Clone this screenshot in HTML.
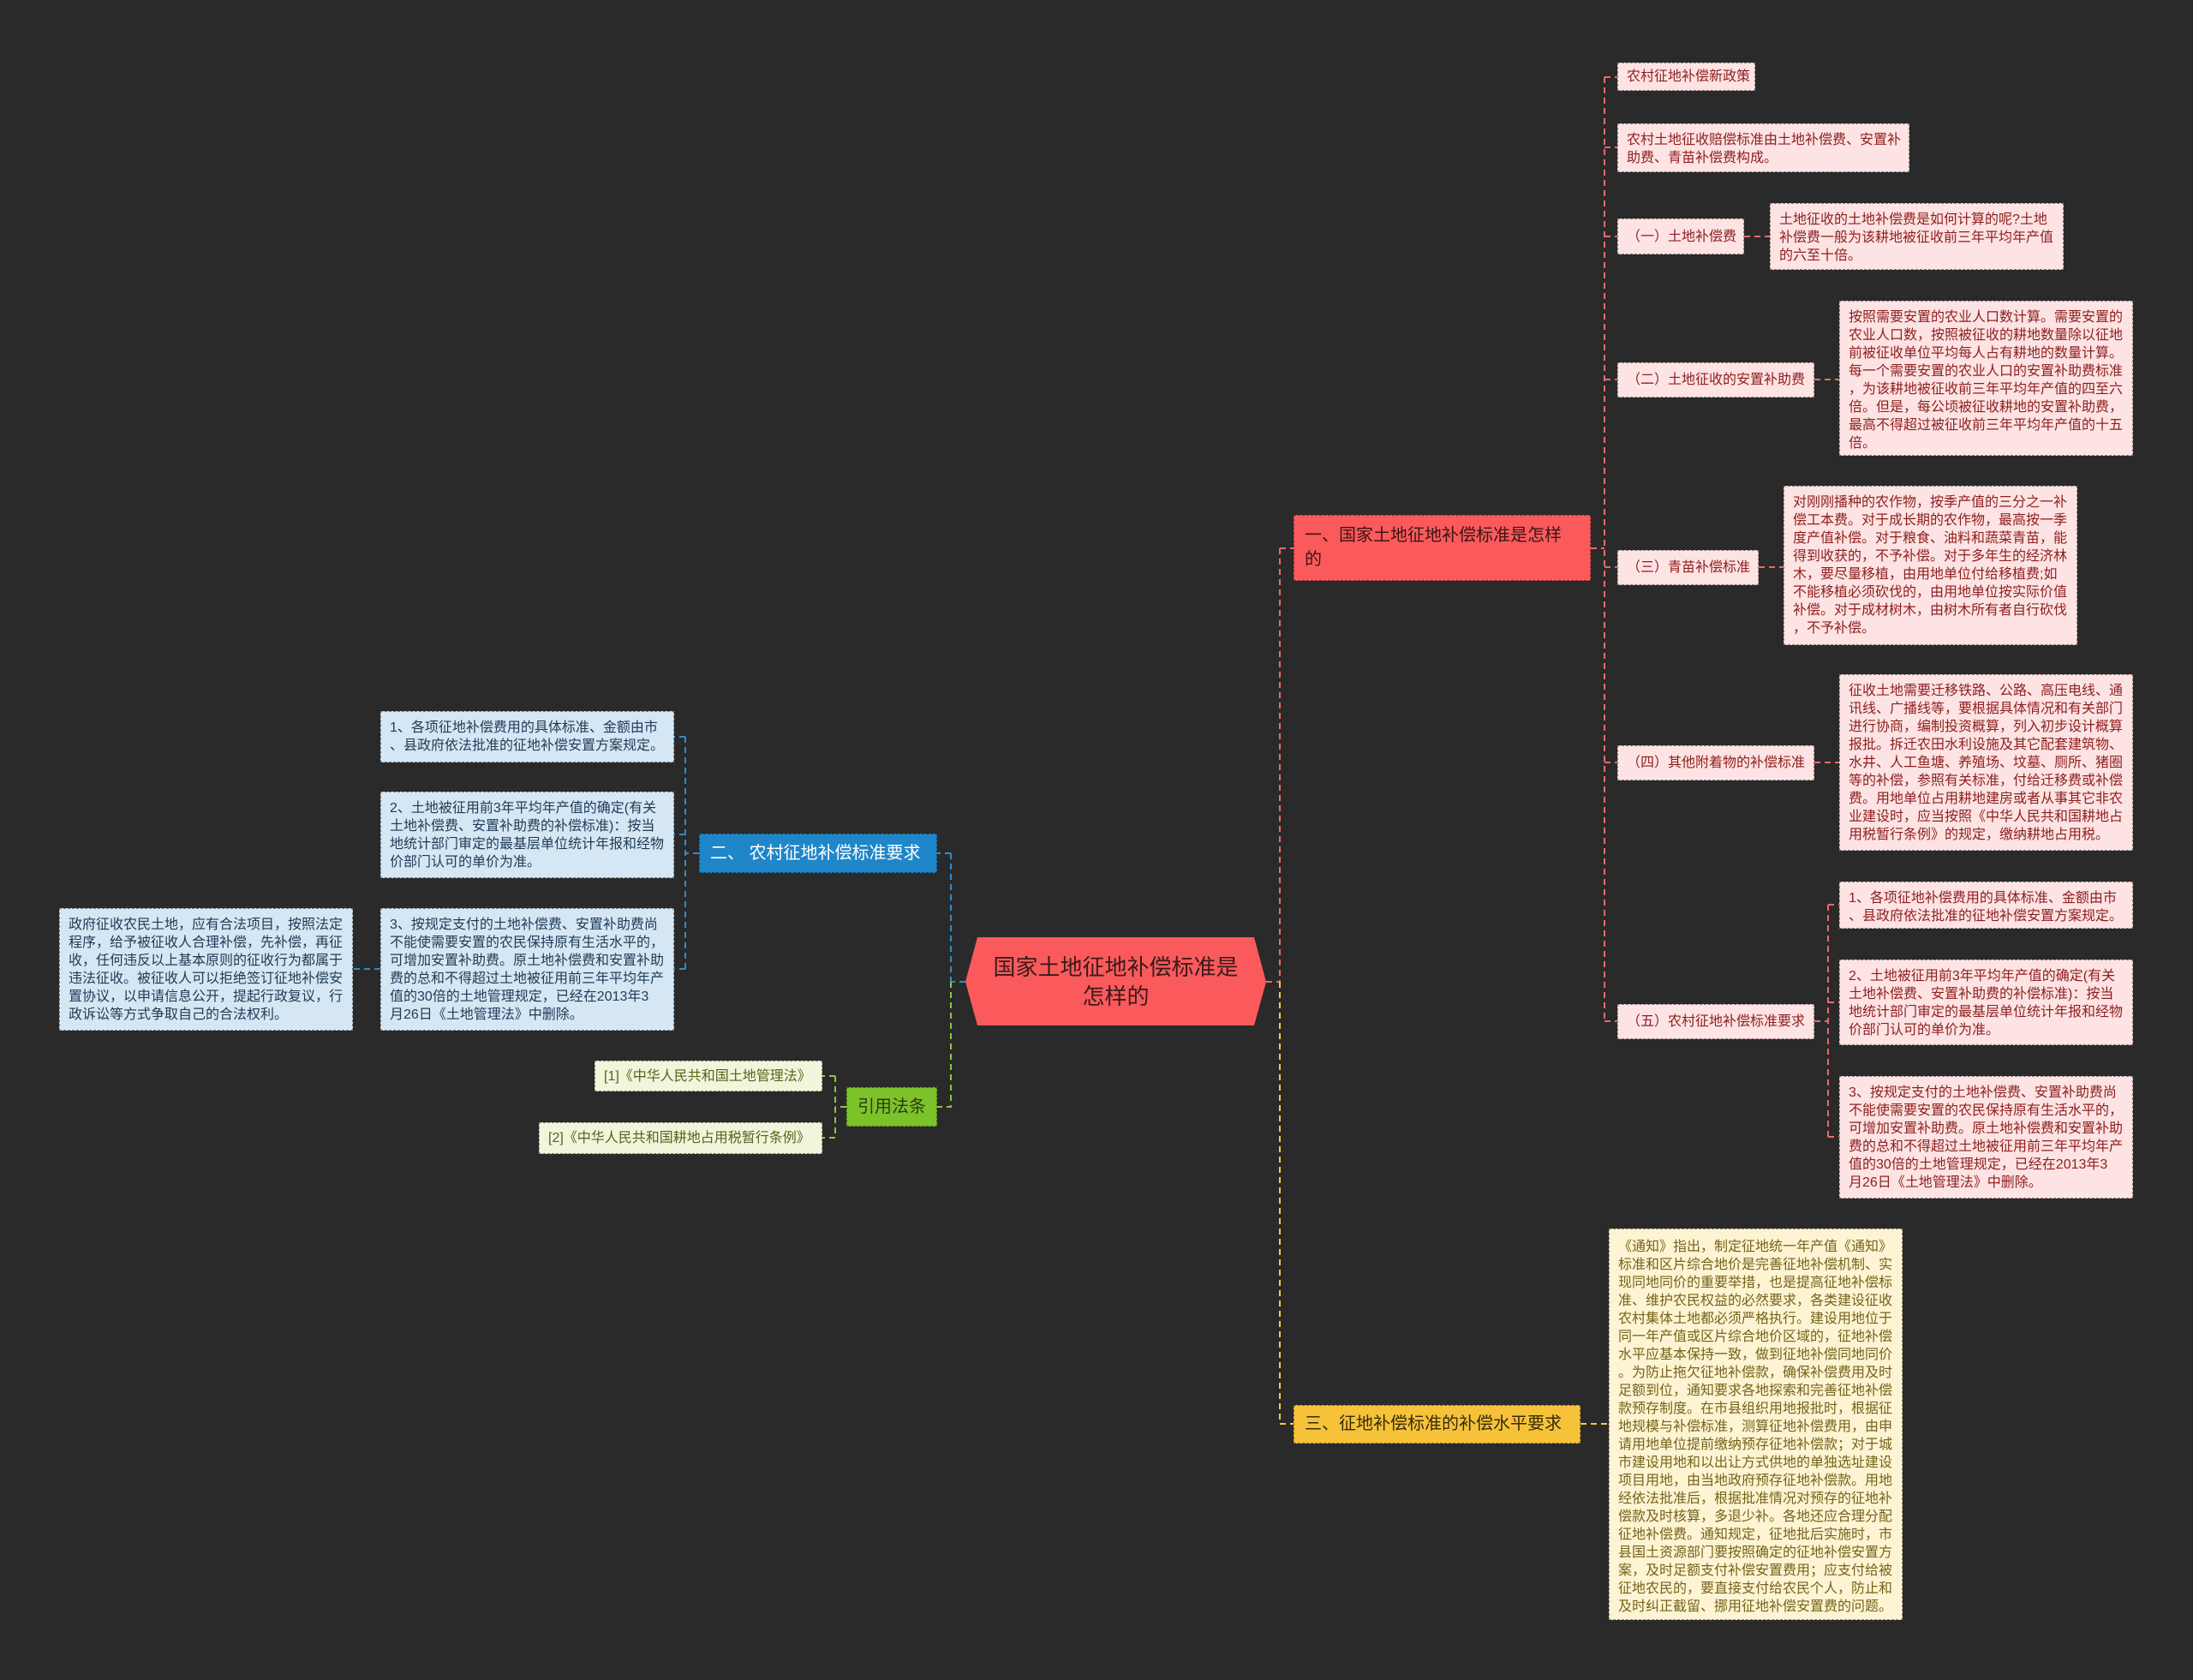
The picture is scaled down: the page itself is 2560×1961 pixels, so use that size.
<!DOCTYPE html>
<html><head><meta charset="utf-8">
<style>
body{margin:0;width:2560px;height:1961px;background:#2a2a2a;position:relative;overflow:hidden;font-family:"Liberation Sans","Noto Sans CJK SC",sans-serif;}
.b{position:absolute;box-sizing:border-box;font-size:16px;line-height:21px;padding:8px 10px;border:1.5px dashed rgba(0,0,0,0.45);white-space:nowrap;}
.p{background:#fde3e3;color:#8e1e1e;}
.u{background:#d5e7f4;color:#1d3a57;}
.g{background:#f0f5dc;color:#56631a;}
.y{background:#fdf4d3;color:#76621a;}
.c{display:flex;align-items:center;}
svg{position:absolute;left:0;top:0}
</style></head><body>
<svg width="2560" height="1961" fill="none" stroke-width="2" stroke-dasharray="7,5">
<g stroke="#e86b6b">
<path d="M1857 640H1873M1873 90V1192M1873 90H1888M1873 172H1888M1873 276H1888M1873 443H1888M1873 662H1888M1873 890H1888M1873 1192H1888"/>
<path d="M2036 276H2066M2118 443H2147M2053 662H2082M2118 890H2147M2118 1192H2134M2134 1056V1327M2134 1056H2147M2134 1170H2147M2134 1327H2147"/>
<path d="M1478 1146H1494M1494 640V1146M1494 640H1510"/>
</g>
<path stroke="#f2c94c" d="M1494 1146V1662H1510M1845 1662H1878"/>
<path stroke="#2f8ccc" d="M1127 1146H1110M1110 996V1146M1110 996H1094M816 996H800M800 860V1131M800 860H787M800 974H787M800 1131H787M444 1131H412"/>
<path stroke="#8cc63f" d="M1110 1146V1292H1094M988 1292H975M975 1256V1328M975 1256H960M975 1328H960"/>
</svg>

<svg width="2560" height="1961" style="pointer-events:none"><polygon points="1141,1094 1464,1094 1478,1146 1464,1197 1141,1197 1127,1146" fill="#fa5a5c"/></svg>
<div style="position:absolute;left:1127px;top:1094px;width:351px;height:103px;display:flex;align-items:center;justify-content:center;text-align:center;font-size:26px;line-height:34px;color:#3a1a1a;">国家土地征地补偿标准是<br>怎样的</div>

<div class="b" style="left:1510px;top:601px;width:347px;height:77px;background:#fa5a5c;color:#3a1414;font-size:20px;line-height:28px;padding:9px 12px;">一、国家土地征地补偿标准是怎样<br>的</div>
<div class="b c" style="left:816px;top:973px;width:278px;height:46px;background:#1f86c9;color:#fff;font-size:20px;padding:0 12px;">二、 农村征地补偿标准要求</div>
<div class="b c" style="left:988px;top:1269px;width:106px;height:46px;background:#7cc22b;color:#2e3a10;font-size:20px;padding:0 12px;">引用法条</div>
<div class="b c" style="left:1510px;top:1640px;width:335px;height:45px;background:#f5c23a;color:#3a2a08;font-size:20px;padding:0 12px;">三、征地补偿标准的补偿水平要求</div>

<div class="b p c" style="left:1888px;top:73px;width:161px;height:33px;">农村征地补偿新政策</div>
<div class="b p" style="left:1888px;top:144px;width:341px;height:57px;">农村土地征收赔偿标准由土地补偿费、安置补<br>助费、青苗补偿费构成。</div>
<div class="b p c" style="left:1888px;top:255px;width:148px;height:42px;">（一）土地补偿费</div>
<div class="b p" style="left:2066px;top:237px;width:343px;height:78px;">土地征收的土地补偿费是如何计算的呢?土地<br>补偿费一般为该耕地被征收前三年平均年产值<br>的六至十倍。</div>
<div class="b p c" style="left:1888px;top:423px;width:230px;height:41px;">（二）土地征收的安置补助费</div>
<div class="b p" style="left:2147px;top:351px;width:343px;height:181px;">按照需要安置的农业人口数计算。需要安置的<br>农业人口数，按照被征收的耕地数量除以征地<br>前被征收单位平均每人占有耕地的数量计算。<br>每一个需要安置的农业人口的安置补助费标准<br>，为该耕地被征收前三年平均年产值的四至六<br>倍。但是，每公顷被征收耕地的安置补助费，<br>最高不得超过被征收前三年平均年产值的十五<br>倍。</div>
<div class="b p c" style="left:1888px;top:642px;width:165px;height:41px;">（三）青苗补偿标准</div>
<div class="b p" style="left:2082px;top:567px;width:343px;height:186px;">对刚刚播种的农作物，按季产值的三分之一补<br>偿工本费。对于成长期的农作物，最高按一季<br>度产值补偿。对于粮食、油料和蔬菜青苗，能<br>得到收获的，不予补偿。对于多年生的经济林<br>木，要尽量移植，由用地单位付给移植费;如<br>不能移植必须砍伐的，由用地单位按实际价值<br>补偿。对于成材树木，由树木所有者自行砍伐<br>，不予补偿。</div>
<div class="b p c" style="left:1888px;top:870px;width:230px;height:41px;">（四）其他附着物的补偿标准</div>
<div class="b p" style="left:2147px;top:787px;width:343px;height:206px;">征收土地需要迁移铁路、公路、高压电线、通<br>讯线、广播线等，要根据具体情况和有关部门<br>进行协商，编制投资概算，列入初步设计概算<br>报批。拆迁农田水利设施及其它配套建筑物、<br>水井、人工鱼塘、养殖场、坟墓、厕所、猪圈<br>等的补偿，参照有关标准，付给迁移费或补偿<br>费。用地单位占用耕地建房或者从事其它非农<br>业建设时，应当按照《中华人民共和国耕地占<br>用税暂行条例》的规定，缴纳耕地占用税。</div>
<div class="b p c" style="left:1888px;top:1172px;width:230px;height:41px;">（五）农村征地补偿标准要求</div>
<div class="b p" style="left:2147px;top:1029px;width:343px;height:55px;">1、各项征地补偿费用的具体标准、金额由市<br>、县政府依法批准的征地补偿安置方案规定。</div>
<div class="b p" style="left:2147px;top:1120px;width:343px;height:100px;">2、土地被征用前3年平均年产值的确定(有关<br>土地补偿费、安置补助费的补偿标准)：按当<br>地统计部门审定的最基层单位统计年报和经物<br>价部门认可的单价为准。</div>
<div class="b p" style="left:2147px;top:1256px;width:343px;height:143px;">3、按规定支付的土地补偿费、安置补助费尚<br>不能使需要安置的农民保持原有生活水平的，<br>可增加安置补助费。原土地补偿费和安置补助<br>费的总和不得超过土地被征用前三年平均年产<br>值的30倍的土地管理规定，已经在2013年3<br>月26日《土地管理法》中删除。</div>

<div class="b y" style="left:1878px;top:1434px;width:343px;height:457px;line-height:21px;padding:10px 10px;">《通知》指出，制定征地统一年产值《通知》<br>标准和区片综合地价是完善征地补偿机制、实<br>现同地同价的重要举措，也是提高征地补偿标<br>准、维护农民权益的必然要求，各类建设征收<br>农村集体土地都必须严格执行。建设用地位于<br>同一年产值或区片综合地价区域的，征地补偿<br>水平应基本保持一致，做到征地补偿同地同价<br>。为防止拖欠征地补偿款，确保补偿费用及时<br>足额到位，通知要求各地探索和完善征地补偿<br>款预存制度。在市县组织用地报批时，根据征<br>地规模与补偿标准，测算征地补偿费用，由申<br>请用地单位提前缴纳预存征地补偿款；对于城<br>市建设用地和以出让方式供地的单独选址建设<br>项目用地，由当地政府预存征地补偿款。用地<br>经依法批准后，根据批准情况对预存的征地补<br>偿款及时核算，多退少补。各地还应合理分配<br>征地补偿费。通知规定，征地批后实施时，市<br>县国土资源部门要按照确定的征地补偿安置方<br>案，及时足额支付补偿安置费用；应支付给被<br>征地农民的，要直接支付给农民个人，防止和<br>及时纠正截留、挪用征地补偿安置费的问题。</div>

<div class="b u" style="left:444px;top:830px;width:343px;height:60px;">1、各项征地补偿费用的具体标准、金额由市<br>、县政府依法批准的征地补偿安置方案规定。</div>
<div class="b u" style="left:444px;top:924px;width:343px;height:101px;">2、土地被征用前3年平均年产值的确定(有关<br>土地补偿费、安置补助费的补偿标准)：按当<br>地统计部门审定的最基层单位统计年报和经物<br>价部门认可的单价为准。</div>
<div class="b u" style="left:444px;top:1060px;width:343px;height:143px;">3、按规定支付的土地补偿费、安置补助费尚<br>不能使需要安置的农民保持原有生活水平的，<br>可增加安置补助费。原土地补偿费和安置补助<br>费的总和不得超过土地被征用前三年平均年产<br>值的30倍的土地管理规定，已经在2013年3<br>月26日《土地管理法》中删除。</div>
<div class="b u" style="left:69px;top:1060px;width:343px;height:143px;">政府征收农民土地，应有合法项目，按照法定<br>程序，给予被征收人合理补偿，先补偿，再征<br>收，任何违反以上基本原则的征收行为都属于<br>违法征收。被征收人可以拒绝签订征地补偿安<br>置协议，以申请信息公开，提起行政复议，行<br>政诉讼等方式争取自己的合法权利。</div>

<div class="b g c" style="left:694px;top:1238px;width:266px;height:36px;">[1]《中华人民共和国土地管理法》</div>
<div class="b g c" style="left:629px;top:1310px;width:331px;height:37px;">[2]《中华人民共和国耕地占用税暂行条例》</div>
</body></html>
